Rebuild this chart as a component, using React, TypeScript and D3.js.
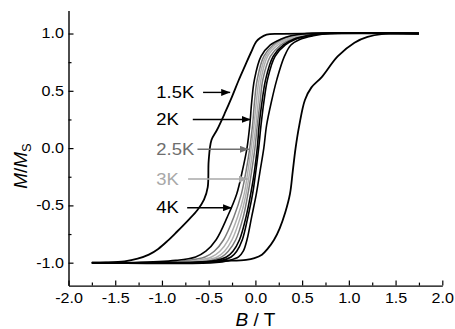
import React, { useEffect, useRef } from "react";
import * as d3 from "d3";

// M/Ms levels at which the inner loop branches were read
const mLevels = [1.0, 0.98, 0.95, 0.9, 0.8, 0.6, 0.4, 0.2, 0, -0.2, -0.4, -0.6, -0.8, -0.9, -0.95, -0.98, -1.0];

// B (T) of each inner branch at those levels
const k2Down = [0.55, 0.38, 0.27, 0.16, 0.06, -0.01, -0.04, -0.06, -0.09, -0.14, -0.2, -0.3, -0.42, -0.53, -0.64, -0.85, -1.3];
const k25Down = [0.6, 0.42, 0.3, 0.19, 0.09, 0.02, -0.01, -0.03, -0.06, -0.1, -0.15, -0.23, -0.34, -0.44, -0.54, -0.72, -1.15];
const k3Down = [0.62, 0.44, 0.32, 0.21, 0.11, 0.04, 0.01, -0.015, -0.045, -0.08, -0.12, -0.19, -0.29, -0.38, -0.47, -0.63, -1.0];
const k3Up = [0.66, 0.48, 0.35, 0.24, 0.13, 0.06, 0.03, 0.005, -0.025, -0.06, -0.1, -0.16, -0.25, -0.33, -0.41, -0.55, -0.9];
const k25Up = [0.7, 0.52, 0.38, 0.27, 0.16, 0.08, 0.05, 0.02, -0.005, -0.04, -0.08, -0.13, -0.21, -0.29, -0.36, -0.49, -0.8];
const k4Down = [0.72, 0.55, 0.41, 0.3, 0.19, 0.11, 0.07, 0.04, 0.02, -0.01, -0.05, -0.1, -0.17, -0.24, -0.31, -0.42, -0.7];
const k4Up = [0.75, 0.57, 0.43, 0.32, 0.21, 0.13, 0.09, 0.06, 0.035, 0.005, -0.03, -0.08, -0.14, -0.2, -0.26, -0.36, -0.6];
const k2Up = [0.8, 0.62, 0.48, 0.38, 0.31, 0.23, 0.17, 0.12, 0.09, 0.05, 0.01, -0.04, -0.09, -0.13, -0.18, -0.28, -0.45];

// 1.5 K loop, [B, M/Ms]
const k15Down = [
  [1.75, 1.0], [0.6, 1.0], [0.25, 0.997], [0.12, 0.99], [0.05, 0.96], [0.01, 0.93],
  [-0.05, 0.83], [-0.11, 0.72], [-0.18, 0.59], [-0.25, 0.45], [-0.33, 0.3], [-0.41, 0.16],
  [-0.47, 0.07], [-0.5, -0.11], [-0.51, -0.34], [-0.55, -0.45], [-0.62, -0.54], [-0.72, -0.63],
  [-0.84, -0.73], [-0.94, -0.81], [-1.04, -0.88], [-1.14, -0.93], [-1.26, -0.965],
  [-1.4, -0.988], [-1.6, -0.998], [-1.75, -1.0],
];
const k15Up = [
  [-1.75, -1.0], [-0.6, -0.995], [-0.33, -0.985], [-0.1, -0.975], [-0.01, -0.96], [0.07, -0.93],
  [0.13, -0.88], [0.2, -0.8], [0.26, -0.7], [0.32, -0.56], [0.37, -0.4], [0.4, -0.2],
  [0.43, 0.0], [0.47, 0.2], [0.53, 0.42], [0.6, 0.53], [0.71, 0.62], [0.88, 0.8],
  [1.06, 0.92], [1.2, 0.97], [1.35, 0.995], [1.75, 1.0],
];

const labels = ["1.5K", "2K", "2.5K", "3K", "4K"];
const labelColors = ["#000", "#000", "#6e6e6e", "#a8a8a8", "#000"];
const labelM = [0.486, 0.25, -0.01, -0.27, -0.52];
const arrowFromB = [-0.56, -0.67, -0.62, -0.72, -0.73];
const arrowToB = [-0.27, -0.05, -0.07, -0.08, -0.25];

const xMajor = [-2, -1.5, -1, -0.5, 0, 0.5, 1, 1.5, 2];
const xMinor = [-1.75, -1.25, -0.75, -0.25, 0.25, 0.75, 1.25, 1.75];
const yMajor = [-1, -0.5, 0, 0.5, 1];
const yMinor = [-0.75, -0.25, 0.25, 0.75];

const App = () => {
  const svgRef = useRef(null);
  const width = 455;
  const height = 329;
  const margin = { top: 10.6, right: 12.7, bottom: 43.4, left: 68.5 };
  const font = "'Liberation Sans', Arial, sans-serif";
  const sx = 1.15; // the original figure is a bit stretched sideways

  useEffect(() => {
    const svg = d3.select(svgRef.current);
    svg.selectAll("*").remove();

    const x = d3.scaleLinear().domain([-2, 2]).range([margin.left, width - margin.right]);
    const y = d3.scaleLinear().domain([-1.2, 1.2]).range([height - margin.bottom, margin.top]);

    const line = d3
      .line()
      .x((d) => x(d[0]))
      .y((d) => y(d[1]))
      .curve(d3.curveCatmullRom.alpha(0.5));

    const branch = (bs) => [[1.75, 1.0], ...bs.map((b, i) => [b, mLevels[i]]), [-1.75, -1.0]];

    const curves = [
      { pts: branch(k25Down), color: "#7a7a7a", w: 1.5 },
      { pts: branch(k25Up), color: "#7a7a7a", w: 1.5 },
      { pts: branch(k3Down), color: "#b0b0b0", w: 1.5 },
      { pts: branch(k3Up), color: "#b0b0b0", w: 1.5 },
      { pts: branch(k4Down), color: "#000", w: 1.6 },
      { pts: branch(k4Up), color: "#000", w: 1.6 },
      { pts: branch(k2Down), color: "#000", w: 1.6 },
      { pts: branch(k2Up), color: "#000", w: 1.6 },
      { pts: k15Down, color: "#000", w: 1.8 },
      { pts: k15Up, color: "#000", w: 1.8 },
    ];

    svg
      .append("g")
      .selectAll("path")
      .data(curves)
      .enter()
      .append("path")
      .attr("d", (d) => line(d.pts))
      .attr("fill", "none")
      .attr("stroke", (d) => d.color)
      .attr("stroke-width", (d) => d.w)
      .attr("stroke-linejoin", "round");

    // arrow heads
    const defs = svg.append("defs");
    labelColors.forEach((c, i) => {
      defs
        .append("marker")
        .attr("id", "arr" + i)
        .attr("markerUnits", "userSpaceOnUse")
        .attr("markerWidth", 9)
        .attr("markerHeight", 7)
        .attr("refX", 9)
        .attr("refY", 3.5)
        .attr("orient", "auto")
        .append("path")
        .attr("d", "M0,0L9,3.5L0,7Z")
        .attr("fill", c);
    });

    const ann = svg.append("g");
    labels.forEach((t, i) => {
      ann
        .append("line")
        .attr("x1", x(arrowFromB[i]))
        .attr("x2", x(arrowToB[i]))
        .attr("y1", y(labelM[i]))
        .attr("y2", y(labelM[i]))
        .attr("stroke", labelColors[i])
        .attr("stroke-width", 1.4)
        .attr("marker-end", `url(#arr${i})`);
      ann
        .append("text")
        .attr("transform", `translate(${x(-1.06)},${y(labelM[i])}) scale(${sx},1)`)
        .attr("dy", "0.36em")
        .attr("fill", labelColors[i])
        .style("font-family", font)
        .style("font-size", "16px")
        .text(t);
    });

    // axes
    const styleAxis = (g) => {
      g.select(".domain").attr("stroke", "#000").attr("stroke-width", 1.4);
      g.selectAll(".tick line").attr("stroke", "#000").attr("stroke-width", 1.2);
      g.selectAll("text")
        .attr("fill", "#000")
        .style("font-family", font)
        .style("font-size", "14px");
    };

    const xg = svg
      .append("g")
      .attr("transform", `translate(0,${height - margin.bottom})`)
      .call(
        d3.axisBottom(x).tickValues(xMajor).tickSizeInner(-5).tickSizeOuter(0).tickPadding(7)
          .tickFormat((d) => d.toFixed(1))
      );
    styleAxis(xg);
    xg.selectAll("text").attr("transform", `scale(${sx},1)`);

    svg
      .append("g")
      .attr("transform", `translate(0,${height - margin.bottom})`)
      .call(d3.axisBottom(x).tickValues(xMinor).tickSize(-3).tickFormat(() => ""))
      .call((g) => g.select(".domain").remove())
      .call((g) => g.selectAll("line").attr("stroke", "#000").attr("stroke-width", 1.2));

    const yg = svg
      .append("g")
      .attr("transform", `translate(${margin.left},0)`)
      .call(
        d3.axisLeft(y).tickValues(yMajor).tickSizeInner(-5).tickSizeOuter(0).tickPadding(4)
          .tickFormat((d) => d.toFixed(1))
      );
    styleAxis(yg);
    yg.selectAll("text").attr("transform", `scale(${sx},1)`);

    svg
      .append("g")
      .attr("transform", `translate(${margin.left},0)`)
      .call(d3.axisLeft(y).tickValues(yMinor).tickSize(-3).tickFormat(() => ""))
      .call((g) => g.select(".domain").remove())
      .call((g) => g.selectAll("line").attr("stroke", "#000").attr("stroke-width", 1.2));

    // axis titles
    const xt = svg
      .append("text")
      .attr("x", x(0))
      .attr("y", 326)
      .attr("text-anchor", "middle")
      .style("font-family", font)
      .style("font-size", "19px");
    xt.append("tspan").style("font-style", "italic").text("B");
    xt.append("tspan").text(" / T");

    const yt = svg
      .append("text")
      .attr("transform", `translate(27,166) rotate(-90)`)
      .attr("text-anchor", "middle")
      .style("font-family", font)
      .style("font-size", "19px");
    yt.append("tspan").style("font-style", "italic").text("M");
    yt.append("tspan").text("/");
    yt.append("tspan").style("font-style", "italic").text("M");
    yt.append("tspan").attr("dy", "0.3em").style("font-size", "13px").text("S");
  }, []);

  return (
    <svg
      ref={svgRef}
      width={width}
      height={height}
      style={{ position: "absolute", left: 0, top: 0, background: "#fff" }}
    />
  );
};

export default App;
